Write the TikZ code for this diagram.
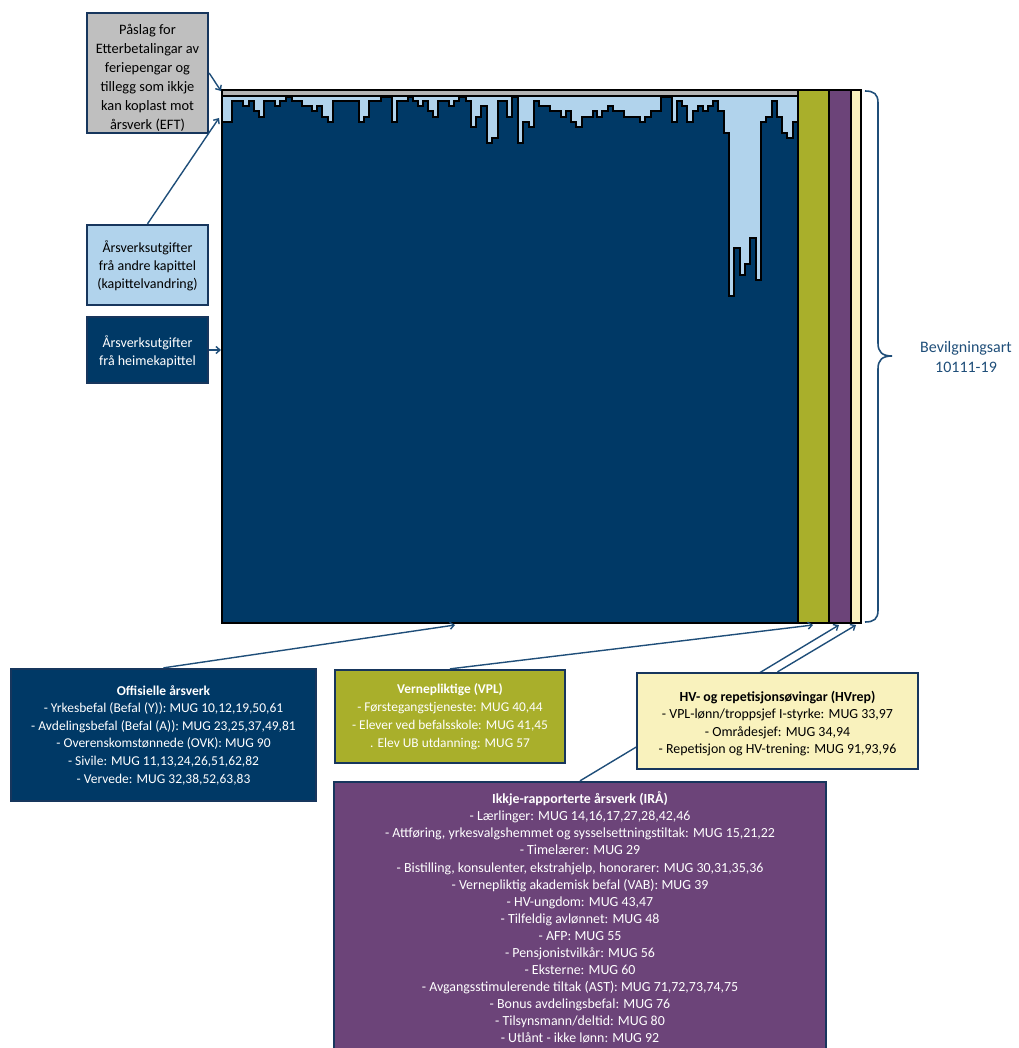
\documentclass[tikz,border=0pt]{standalone}
\usepackage{fontspec}
\setmainfont{Carlito}
\usetikzlibrary{arrows.meta}
\definecolor{navy}{HTML}{003966}
\definecolor{lightblue}{HTML}{B1D3EC}
\definecolor{eftgray}{HTML}{BFBFBF}
\definecolor{bargray}{HTML}{B4B4B4}
\definecolor{olivec}{HTML}{A9AF2B}
\definecolor{purplec}{HTML}{6C4479}
\definecolor{creamc}{HTML}{F9F2BD}
\definecolor{boxborder}{HTML}{17365D}
\definecolor{arrowc}{HTML}{1F4E79}
\begin{document}
\begin{tikzpicture}[x=1pt,y=-1pt,
  boxshape/.style={draw=boxborder, line width=2.3pt, inner sep=0pt},
  boxtext/.style={align=center, inner sep=0pt, font=\fontsize{13.9}{17.5}\selectfont},
  link/.style={draw=arrowc, line width=1.4pt, -{Straight Barb[length=4pt,width=7pt,line width=1.4pt]}},
  plainlink/.style={draw=arrowc, line width=1.5pt},
  chartline/.style={draw=black, line width=1.1pt}]
\useasboundingbox (0,0) rectangle (1018,1048);
\clip (0,0) rectangle (1018,1048);

% ---- chart ----
\fill[lightblue] (222,96) rectangle (798,623);
\filldraw[fill=navy, chartline, line join=miter] (222,623) -- (222,122) -| (232,101) -| (243,106) -| (249,101) -| (254,111) -| (259,117) -| (264,101) -| (275,106) -| (280,101) -| (286,97) -| (292,101) -| (302,106) -| (312,111) -| (317,106) -| (322,117) -| (328,122) -| (333,101) -| (359,122) -| (364,117) -| (369,101) -| (381,97) -| (392,122) -| (397,101) -| (408,97) -| (413,101) -| (418,106) -| (423,101) -| (428,111) -| (433,117) -| (438,101) -| (449,106) -| (454,101) -| (459,97) -| (466,101) -| (471,127) -| (476,117) -| (481,106) -| (487,143) -| (492,138) -| (498,101) -| (507,117) -| (512,97) -| (518,143) -| (523,122) -| (529,127) -| (534,101) -| (539,106) -| (550,111) -| (561,117) -| (566,111) -| (571,122) -| (576,127) -| (582,117) -| (593,111) -| (597,117) -| (602,111) -| (608,106) -| (613,111) -| (624,117) -| (640,122) -| (645,117) -| (651,111) -| (661,97) -| (672,122) -| (677,101) -| (682,106) -| (687,122) -| (693,111) -| (698,106) -| (703,111) -| (708,106) -| (713,101) -| (718,111) -| (724,133) -| (729,296) -| (734,248) -| (740,275) -| (745,264) -| (750,238) -| (756,280) -| (761,122) -| (766,117) -| (772,101) -| (777,117) -| (782,133) -| (787,138) -| (793,122) -- (798,122) -- (798,623) -- cycle;
\filldraw[fill=bargray, chartline] (222,90) rectangle (798,96);
\filldraw[fill=olivec, chartline] (798,90) rectangle (829,623);
\filldraw[fill=purplec, chartline] (829,90) rectangle (851,623);
\filldraw[fill=creamc, chartline] (851,90) rectangle (861,623);
\draw[chartline] (222,90) rectangle (861,623);

% target points
\coordinate (tEft) at (221,91);
\coordinate (tKap) at (219,118);
\coordinate (tHeim) at (221,350);
\coordinate (tOff) at (455,625);
\coordinate (tVpl) at (813,625);
\coordinate (tIra) at (839,625);
\coordinate (tHv) at (856,625);

% brace
\draw[plainlink, line width=1.6pt] (865,91) .. controls (874,91) and (878,94) .. (878,103) -- (878,343) .. controls (878,352) and (882,356) .. (892,356) .. controls (882,356) and (878,360) .. (878,369) -- (878,610) .. controls (878,619) and (874,622) .. (865,622);
\node[align=center, inner sep=0pt, text=arrowc, font=\fontsize{16}{20}\selectfont] (bev) at (966,357) {Bevilgningsart\\10111-19};

% ---- left boxes ----
\node[boxshape, fill=eftgray, minimum width=121pt, minimum height=120pt] (eft) at (147.5,73) {};
\node[boxtext, font=\fontsize{14.4}{19}\selectfont] (eftt) at (147.5,78) {Påslag for\\Etterbetalingar av\\feriepengar og\\tillegg som ikkje\\kan koplast mot\\årsverk (EFT)};

\node[boxshape, fill=lightblue, minimum width=121pt, minimum height=80pt] (kap) at (147.5,265) {};
\node[boxtext, font=\fontsize{14}{18}\selectfont] (kapt) at (147.5,266) {Årsverksutgifter\\frå andre kapittel\\(kapittelvandring)};

\node[boxshape, fill=navy, minimum width=121pt, minimum height=66pt] (heim) at (147.5,350) {};
\node[boxtext, text=white, font=\fontsize{14}{18}\selectfont] (heimt) at (147.5,352) {Årsverksutgifter\\frå heimekapittel};

\draw[link] (eft.east) -- (tEft);
\draw[link] (kap.north) -- (tKap);
\draw[link] (heim.east) -- (tHeim);

% ---- bottom boxes ----
\node[boxshape, fill=purplec, minimum width=492pt, minimum height=280pt] (ira) at (580,922) {};
\draw[link] (ira.north) -- (tIra);

\node[boxshape, fill=navy, minimum width=305pt, minimum height=132pt] (off) at (163.5,735) {};
\node[boxtext, text=white, font=\fontsize{13.5}{17.6}\selectfont] (offt) at (163.5,735) {\textbf{Offisielle årsverk}\\- Yrkesbefal (Befal (Y)): MUG 10,12,19,50,61\\- Avdelingsbefal (Befal (A)): MUG 23,25,37,49,81\\- Overenskomstønnede (OVK): MUG 90\\- Sivile: MUG 11,13,24,26,51,62,82\\- Vervede: MUG 32,38,52,63,83};

\node[boxshape, fill=olivec, minimum width=230pt, minimum height=93pt] (vpl) at (450,716.5) {};
\node[boxtext, text=white, font=\fontsize{13.4}{18}\selectfont] (vplt) at (450,717) {\textbf{Vernepliktige (VPL)}\\- Førstegangstjeneste: MUG 40,44\\- Elever ved befalsskole: MUG 41,45\\. Elev UB utdanning: MUG 57};

\node[boxshape, fill=creamc, minimum width=281pt, minimum height=96pt] (hv) at (777.5,721) {};
\node[boxtext, font=\fontsize{13.9}{17.5}\selectfont] (hvt) at (777.5,723.5) {\textbf{HV- og repetisjonsøvingar (HVrep)}\\- VPL-lønn/troppsjef I-styrke: MUG 33,97\\- Områdesjef: MUG 34,94\\- Repetisjon og HV-trening: MUG 91,93,96};

\node[boxtext, text=white, font=\fontsize{13.9}{17.07}\selectfont] (irat) at (580,917.5) {\textbf{Ikkje-rapporterte årsverk (IRÅ)}\\- Lærlinger: MUG 14,16,17,27,28,42,46\\- Attføring, yrkesvalgshemmet og sysselsettningstiltak: MUG 15,21,22\\- Timelærer: MUG 29\\- Bistilling, konsulenter, ekstrahjelp, honorarer: MUG 30,31,35,36\\- Vernepliktig akademisk befal (VAB): MUG 39\\- HV-ungdom: MUG 43,47\\- Tilfeldig avlønnet: MUG 48\\- AFP: MUG 55\\- Pensjonistvilkår: MUG 56\\- Eksterne: MUG 60\\- Avgangsstimulerende tiltak (AST): MUG 71,72,73,74,75\\- Bonus avdelingsbefal: MUG 76\\- Tilsynsmann/deltid: MUG 80\\- Utlånt - ikke lønn: MUG 92};

\draw[link] (off.north) -- (tOff);
\draw[link] (vpl.north) -- (tVpl);
\draw[link] (hv.north) -- (tHv);
\end{tikzpicture}
\end{document}
